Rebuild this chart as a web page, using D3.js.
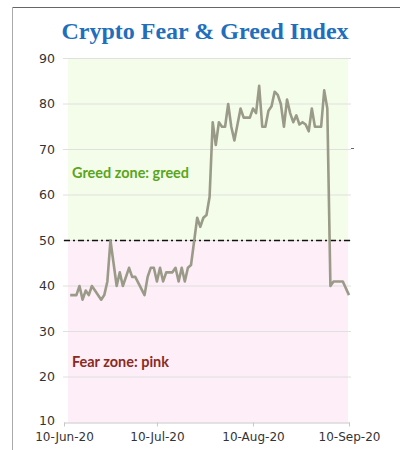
<!DOCTYPE html>
<html><head><meta charset="utf-8">
<script src="https://cdn.jsdelivr.net/npm/d3@7"></script>
<style>body{margin:0;background:#fff;} svg{display:block;}</style>
</head><body>
<svg id="c" width="400" height="450"></svg>
<script>
const title = "Crypto Fear & Greed Index";
const dates = ["2020-06-12","2020-06-14","2020-06-15","2020-06-16","2020-06-17","2020-06-18","2020-06-19","2020-06-20","2020-06-22","2020-06-23","2020-06-24","2020-06-25","2020-06-26","2020-06-27","2020-06-28","2020-06-29","2020-07-01","2020-07-02","2020-07-03","2020-07-06","2020-07-07","2020-07-08","2020-07-09","2020-07-10","2020-07-11","2020-07-12","2020-07-13","2020-07-15","2020-07-16","2020-07-17","2020-07-18","2020-07-19","2020-07-20","2020-07-21","2020-07-23","2020-07-24","2020-07-25","2020-07-26","2020-07-27","2020-07-28","2020-07-29","2020-07-30","2020-07-31","2020-08-01","2020-08-02","2020-08-03","2020-08-04","2020-08-06","2020-08-07","2020-08-09","2020-08-10","2020-08-11","2020-08-12","2020-08-13","2020-08-14","2020-08-15","2020-08-16","2020-08-17","2020-08-18","2020-08-19","2020-08-20","2020-08-21","2020-08-22","2020-08-23","2020-08-24","2020-08-25","2020-08-26","2020-08-27","2020-08-28","2020-08-29","2020-08-30","2020-09-01","2020-09-02","2020-09-03","2020-09-04","2020-09-05","2020-09-08","2020-09-10"];
const values = [38,38,40,37,39,38,40,39,37,38,41,50,45,40,43,40,44,42,42,38,42,44,44,41,44,41,43,43,44,41,44,41,44,44.6,55,53,55,55.6,59.6,76,71,76,75,75,80,75,72,79,77,77,79,78,84,75,75,78.5,79.5,82.7,82,80,75,81,78,76,77.5,75.5,76,75.5,74,79,75,75,83,79,40,41,41,38];
const yTicks = [10,20,30,40,50,60,70,80,90];
const xTickDates = ["2020-06-10","2020-07-10","2020-08-10","2020-09-10"];
const xTickLabels = ["10-Jun-20","10-Jul-20","10-Aug-20","10-Sep-20"];
const threshold = 50;
const zoneLabels = ["Greed zone: greed","Fear zone: pink"];
const zoneLabelValues = [63.7, 22.3];

const parse = d3.timeParse("%Y-%m-%d");
const svg = d3.select("#c");
const x = d3.scaleTime().domain([parse("2020-06-10"), parse("2020-09-10")]).range([64, 349]);
const y = d3.scaleLinear().domain([10, 90]).range([422.5, 58.5]);

// frame
svg.append("line").attr("x1",12).attr("x2",400).attr("y1",7.5).attr("y2",7.5).attr("stroke","#666").attr("stroke-width",1);
svg.append("line").attr("x1",12.5).attr("x2",12.5).attr("y1",7).attr("y2",450).attr("stroke","#aaa").attr("stroke-width",1);

// zones
const bx0 = x.range()[0] + 4, bx1 = x.range()[1] - 1;
svg.append("rect").attr("x",bx0).attr("width",bx1-bx0).attr("y",y(90)).attr("height",y(threshold)-y(90)).attr("fill","#f4fdea");
svg.append("rect").attr("x",bx0).attr("width",bx1-bx0).attr("y",y(threshold)).attr("height",y(10)-y(threshold)).attr("fill","#fdeef7");

// gridlines
svg.append("g").selectAll("line").data(yTicks.filter(v=>v>10)).join("line")
  .attr("x1",63).attr("x2",351).attr("y1",d=>y(d)).attr("y2",d=>y(d))
  .attr("stroke","#e0e0de").attr("stroke-width",1);

// y labels
svg.append("g").selectAll("text").data(yTicks).join("text")
  .attr("x",55).attr("y",d=>y(d)-(d===10?1.8:0.5)).attr("dy","0.36em").attr("text-anchor","end")
  .attr("font-family","DejaVu Sans, Verdana, sans-serif").attr("font-size",12.5).attr("fill","#333")
  .text(d=>d);

// x axis
const xAxis = d3.axisBottom(x).tickValues(xTickDates.map(parse)).tickFormat((d,i)=>xTickLabels[i]).tickSize(4).tickSizeOuter(0);
const gx = svg.append("g").attr("transform",`translate(0,${y(10)})`).call(xAxis);
gx.select(".domain").attr("stroke","#c8c8c8").attr("d",`M${x.range()[0]},0.5H${x.range()[1]+1}`);
gx.selectAll(".tick line").attr("stroke","#c8c8c8");
gx.selectAll(".tick text").attr("font-family","DejaVu Sans, Verdana, sans-serif").attr("font-size",12).attr("fill","#333").attr("dy","1em").attr("y",6);

// threshold line
svg.append("line").attr("x1",x.range()[0]).attr("x2",x.range()[1]+2).attr("y1",y(threshold)).attr("y2",y(threshold))
  .attr("stroke","#111").attr("stroke-width",1.4).attr("stroke-dasharray","6,3,2,3");

// small mark at right
svg.append("line").attr("x1",x.range()[1]+2).attr("x2",x.range()[1]+5).attr("y1",y(70)-1).attr("y2",y(70)-1).attr("stroke","#666").attr("stroke-width",1);

// zone labels
svg.append("text").attr("x",72).attr("y",y(zoneLabelValues[0])).attr("font-family","Lato, 'Open Sans', sans-serif").attr("font-weight","bold")
  .attr("font-size",14.5).attr("fill","#5aa51c").attr("textLength",117).attr("lengthAdjust","spacingAndGlyphs").text(zoneLabels[0]);
svg.append("text").attr("x",72).attr("y",y(zoneLabelValues[1])).attr("font-family","Lato, 'Open Sans', sans-serif").attr("font-weight","bold")
  .attr("font-size",14.5).attr("fill","#8a2a22").attr("textLength",97).attr("lengthAdjust","spacingAndGlyphs").text(zoneLabels[1]);

// line
const pts = dates.map((d,i)=>({d:parse(d), v:values[i]}));
svg.append("path").datum(pts).attr("fill","none").attr("stroke","#9a9a88").attr("stroke-width",2.6).attr("stroke-linejoin","round")
  .attr("d", d3.line().x(p=>x(p.d)).y(p=>y(p.v)));

// title
svg.append("text").attr("x",205).attr("y",39).attr("text-anchor","middle")
  .attr("font-family","'Liberation Serif', 'DejaVu Serif', serif").attr("font-weight","bold").attr("font-size",24)
  .attr("fill","#1f6fbd").text(title);
</script>
</body></html>
